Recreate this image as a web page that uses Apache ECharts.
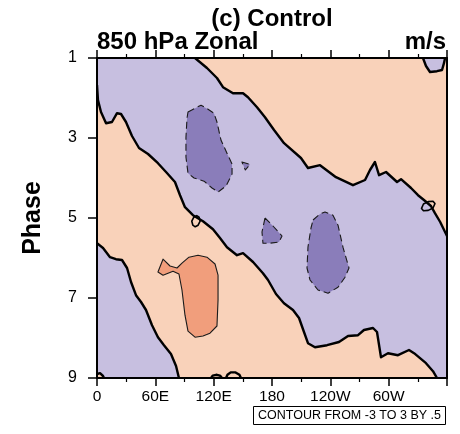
<!DOCTYPE html>
<html>
<head>
<meta charset="utf-8">
<script src="https://cdn.jsdelivr.net/npm/echarts@6/dist/echarts.min.js"></script>
<style>
  html, body { margin: 0; padding: 0; background: #ffffff; }
  #chart { width: 460px; height: 434px; }
</style>
</head>
<body>
<div id="chart"></div>
<script>
// Axis ticks
const lonTicks = [0, 60, 120, 180, 240, 300];
const lonLabels = ['0', '60E', '120E', '180', '120W', '60W'];
const phaseTicks = [1, 3, 5, 7, 9];

// Zero contour: north-east edge of the easterly band (top edge -> right edge), [lon, phase]
const zeroLineA = [
  [100.8, 1.00], [113.1, 1.25], [123.4, 1.50], [129.6, 1.73], [139.9, 1.88], [150.2, 1.88],
  [155.3, 1.98], [164.6, 2.23], [172.8, 2.48], [182.1, 2.80], [192.4, 3.13], [209.8, 3.50],
  [217.0, 3.75], [229.4, 3.68], [245.8, 3.98], [263.3, 4.18], [275.7, 4.05], [280.8, 3.80],
  [285.9, 3.60], [290.1, 3.93], [297.3, 3.85], [308.6, 4.10], [312.7, 4.03], [323.0, 4.25],
  [330.2, 4.43], [336.3, 4.55], [343.5, 4.70], [347.6, 4.88], [353.0, 5.10], [357.0, 5.30],
  [360.0, 5.45]
];
// Zero contour: south-west edge of the easterly band (left edge -> bottom edge)
const zeroLineB = [
  [0.0, 1.68], [1.0, 2.05], [4.1, 2.35], [9.3, 2.63], [15.4, 2.60], [20.6, 2.38], [24.7, 2.40],
  [29.8, 2.60], [36.0, 2.95], [43.2, 3.25], [52.5, 3.40], [62.7, 3.63], [71.0, 3.85], [80.2, 4.10],
  [85.4, 4.43], [90.5, 4.73], [98.7, 4.93], [109.0, 5.08], [119.3, 5.28], [126.5, 5.50],
  [133.7, 5.73], [144.0, 5.93], [150.2, 5.88], [160.5, 6.10], [170.7, 6.38], [175.9, 6.55],
  [184.1, 6.90], [192.3, 7.13], [201.6, 7.30], [207.8, 7.50], [212.9, 7.85], [217.0, 8.13],
  [224.2, 8.23], [236.6, 8.18], [248.9, 8.10], [258.2, 7.95], [268.5, 7.93], [274.6, 7.80],
  [283.9, 7.75], [288.0, 7.85], [292.1, 8.48], [299.3, 8.38], [309.6, 8.43], [320.9, 8.30],
  [326.1, 8.38], [338.4, 8.63], [345.6, 8.83], [349.7, 9.00]
];
// Zero contour: south-west corner easterlies (left edge -> bottom edge)
const zeroLineC = [
  [0.0, 5.63], [6.2, 5.75], [13.4, 5.98], [19.5, 6.03], [25.7, 6.05], [30.9, 6.25], [35.0, 6.60],
  [40.1, 6.93], [45.3, 7.10], [50.4, 7.30], [56.6, 7.68], [62.7, 7.98], [68.9, 8.18], [76.1, 8.40],
  [81.3, 8.70], [84.3, 9.00]
];
// Small easterly cap on the top edge
const zeroCapNE = [
  [335.3, 1.00], [338.4, 1.20], [342.5, 1.35], [349.7, 1.33], [354.9, 1.30], [356.9, 1.13], [358.0, 1.00]
];
// Tiny westerly patch in the south-west corner
const zeroCornerSW = [[0.0, 8.90], [3.1, 8.88], [6.2, 8.95], [7.2, 9.00]];
// Tiny closed zero loops
const zeroLoopW = [
  [102.6, 4.94], [105.0, 4.98], [106.1, 5.08], [104.0, 5.18], [101.0, 5.22], [98.6, 5.18],
  [97.5, 5.08], [99.6, 4.98]
];
const zeroLoopE = [
  [333.8, 4.76], [335.8, 4.65], [340.7, 4.59], [345.6, 4.58], [347.6, 4.64], [345.6, 4.75],
  [340.7, 4.81], [335.8, 4.82]
];
// Tiny open zero arcs touching the bottom edge
const zeroArcS1 = [[117.3, 9.00], [119.0, 8.94], [122.5, 8.92], [126.5, 8.94], [128.6, 9.00]];
const zeroArcS2 = [[132.7, 9.00], [134.2, 8.92], [137.5, 8.86], [142.5, 8.86], [146.5, 8.92], [148.1, 9.00]];

// -0.5 m/s contours
const negCellWest = [
  [93.6, 2.35], [102.9, 2.23], [107.0, 2.18], [114.2, 2.28], [120.3, 2.38], [123.4, 2.60],
  [127.5, 3.05], [133.7, 3.38], [138.9, 3.65], [138.9, 3.90], [132.7, 4.20], [124.5, 4.35],
  [118.3, 4.25], [110.1, 4.08], [99.8, 4.00], [93.6, 3.88], [91.5, 3.48], [91.5, 2.98], [92.6, 2.50]
];
const negCellTiny = [[149.1, 3.60], [157.4, 3.66], [152.6, 3.80]];
const negCellMid = [
  [172.8, 5.00], [181.0, 5.20], [190.3, 5.45], [187.2, 5.60], [177.9, 5.63], [170.7, 5.63], [169.7, 5.35]
];
const negCellEast = [
  [222.2, 5.05], [229.4, 4.90], [234.5, 4.85], [242.7, 4.93], [247.9, 5.18], [253.0, 5.73],
  [259.2, 6.25], [255.1, 6.48], [247.9, 6.73], [237.6, 6.88], [227.3, 6.80], [219.1, 6.55],
  [216.0, 6.25], [217.0, 5.73], [220.1, 5.25]
];
// +0.5 m/s contour
const posCell = [
  [67.9, 6.03], [62.7, 6.35], [67.9, 6.43], [78.2, 6.33], [84.3, 6.40], [87.4, 6.80], [90.5, 7.43],
  [93.6, 7.83], [100.8, 7.98], [109.0, 7.95], [116.2, 7.88], [123.4, 7.70], [124.5, 7.05],
  [124.5, 6.43], [121.4, 6.15], [113.1, 5.98], [103.9, 5.93], [94.6, 5.98], [87.4, 6.13],
  [82.3, 6.25], [75.1, 6.20]
];

// Fill colours per contour interval
const COL_POS_WEAK = '#F9D2BA';
const COL_POS_STRONG = '#F19E7C';
const COL_NEG_WEAK = '#C7BFE0';
const COL_NEG_STRONG = '#8A7DBA';

// Filled areas assembled from the contour lines and the domain edges
const negBand = [[0, 1]].concat(zeroLineA, [[360, 9]], zeroLineB.slice().reverse());
const negCorner = zeroLineC.concat([[0, 9]]);
const posCorner = zeroCornerSW.concat([[0, 9]]);

function shapeSeries(shapes, opts) {
  return {
    type: 'custom',
    coordinateSystem: 'cartesian2d',
    clip: true,
    z: opts.z,
    silent: true,
    data: shapes.map(function (s) { return s[0]; }),
    renderItem: function (params, api) {
      const pts = shapes[params.dataIndex].map(function (p) { return api.coord(p); });
      return {
        type: opts.closed ? 'polygon' : 'polyline',
        shape: { points: pts },
        style: {
          fill: opts.fill || null,
          stroke: opts.stroke || null,
          lineWidth: opts.lineWidth || 0,
          lineDash: opts.lineDash || null,
          lineJoin: 'round'
        }
      };
    }
  };
}

const FONT = 'Liberation Sans, Arial, Helvetica, sans-serif';
const axisCommon = {
  z: 10,
  axisLine: { show: true, onZero: false, lineStyle: { color: '#000', width: 2 } },
  splitLine: { show: false }
};

const chart = echarts.init(document.getElementById('chart'), null, { renderer: 'canvas' });
chart.setOption({
  animation: false,
  backgroundColor: '#ffffff',
  grid: {
    left: 97, top: 58, right: 13, bottom: 56,
    show: true, backgroundColor: COL_POS_WEAK, borderWidth: 0
  },
  xAxis: [
    Object.assign({
      type: 'value', min: 0, max: 360, interval: 60, position: 'bottom',
      axisTick: { show: true, inside: false, length: 8, lineStyle: { color: '#000', width: 1.5 } },
      minorTick: { show: true, splitNumber: 2, length: 4, lineStyle: { color: '#000', width: 1.2 } },
      axisLabel: {
        margin: 11, fontSize: 15.5, color: '#000', fontFamily: FONT,
        formatter: function (v) { const i = lonTicks.indexOf(v); return i >= 0 ? lonLabels[i] : ''; }
      }
    }, axisCommon),
    Object.assign({
      type: 'value', min: 0, max: 360, interval: 60, position: 'top',
      axisTick: { show: true, inside: false, length: 8, lineStyle: { color: '#000', width: 1.5 } },
      minorTick: { show: true, splitNumber: 2, length: 4, lineStyle: { color: '#000', width: 1.2 } },
      axisLabel: { show: false }
    }, axisCommon)
  ],
  yAxis: [
    Object.assign({
      type: 'value', min: 1, max: 9, interval: 2, inverse: true, position: 'left',
      axisTick: { show: true, inside: false, length: 9, lineStyle: { color: '#000', width: 1.5 } },
      axisLabel: {
        margin: 20, fontSize: 16, color: '#000', fontFamily: FONT,
        formatter: function (v) { return phaseTicks.indexOf(v) >= 0 ? String(v) : ''; }
      }
    }, axisCommon),
    Object.assign({
      type: 'value', min: 1, max: 9, interval: 2, inverse: true, position: 'right',
      axisTick: { show: false }, axisLabel: { show: false }
    }, axisCommon)
  ],
  series: [
    shapeSeries([negBand, negCorner, zeroCapNE], { closed: true, fill: COL_NEG_WEAK, z: 1 }),
    shapeSeries([posCorner], { closed: true, fill: COL_POS_WEAK, z: 1 }),
    shapeSeries([negCellWest, negCellTiny, negCellMid, negCellEast],
      { closed: true, fill: COL_NEG_STRONG, stroke: '#1a1a1a', lineWidth: 1.1, lineDash: [7, 4], z: 2 }),
    shapeSeries([posCell], { closed: true, fill: COL_POS_STRONG, stroke: '#1a1a1a', lineWidth: 1.1, z: 2 }),
    shapeSeries([zeroLineA, zeroLineB, zeroLineC, zeroCapNE, zeroCornerSW, zeroArcS1, zeroArcS2],
      { closed: false, stroke: '#000', lineWidth: 2.4, z: 3 }),
    shapeSeries([zeroLoopW, zeroLoopE], { closed: true, stroke: '#000', lineWidth: 1.6, z: 3 })
  ],
  graphic: [
    { type: 'text', x: 272, y: 19, style: { text: '(c) Control', font: 'bold 24px ' + FONT, fill: '#000', align: 'center', verticalAlign: 'middle' } },
    { type: 'text', x: 97, y: 42, style: { text: '850 hPa Zonal', font: 'bold 24px ' + FONT, fill: '#000', align: 'left', verticalAlign: 'middle' } },
    { type: 'text', x: 446, y: 42, style: { text: 'm/s', font: 'bold 24px ' + FONT, fill: '#000', align: 'right', verticalAlign: 'middle' } },
    { type: 'text', x: 33, y: 218, rotation: Math.PI / 2, style: { text: 'Phase', font: 'bold 25px ' + FONT, fill: '#000', align: 'center', verticalAlign: 'middle' } },
    { type: 'rect', shape: { x: 253.5, y: 406.5, width: 192, height: 18 }, style: { fill: '#fff', stroke: '#000', lineWidth: 1 } },
    { type: 'text', x: 349.5, y: 416, style: { text: 'CONTOUR FROM -3 TO 3 BY .5', font: '12.5px ' + FONT, fill: '#000', align: 'center', verticalAlign: 'middle' } }
  ]
});
</script>
</body>
</html>
